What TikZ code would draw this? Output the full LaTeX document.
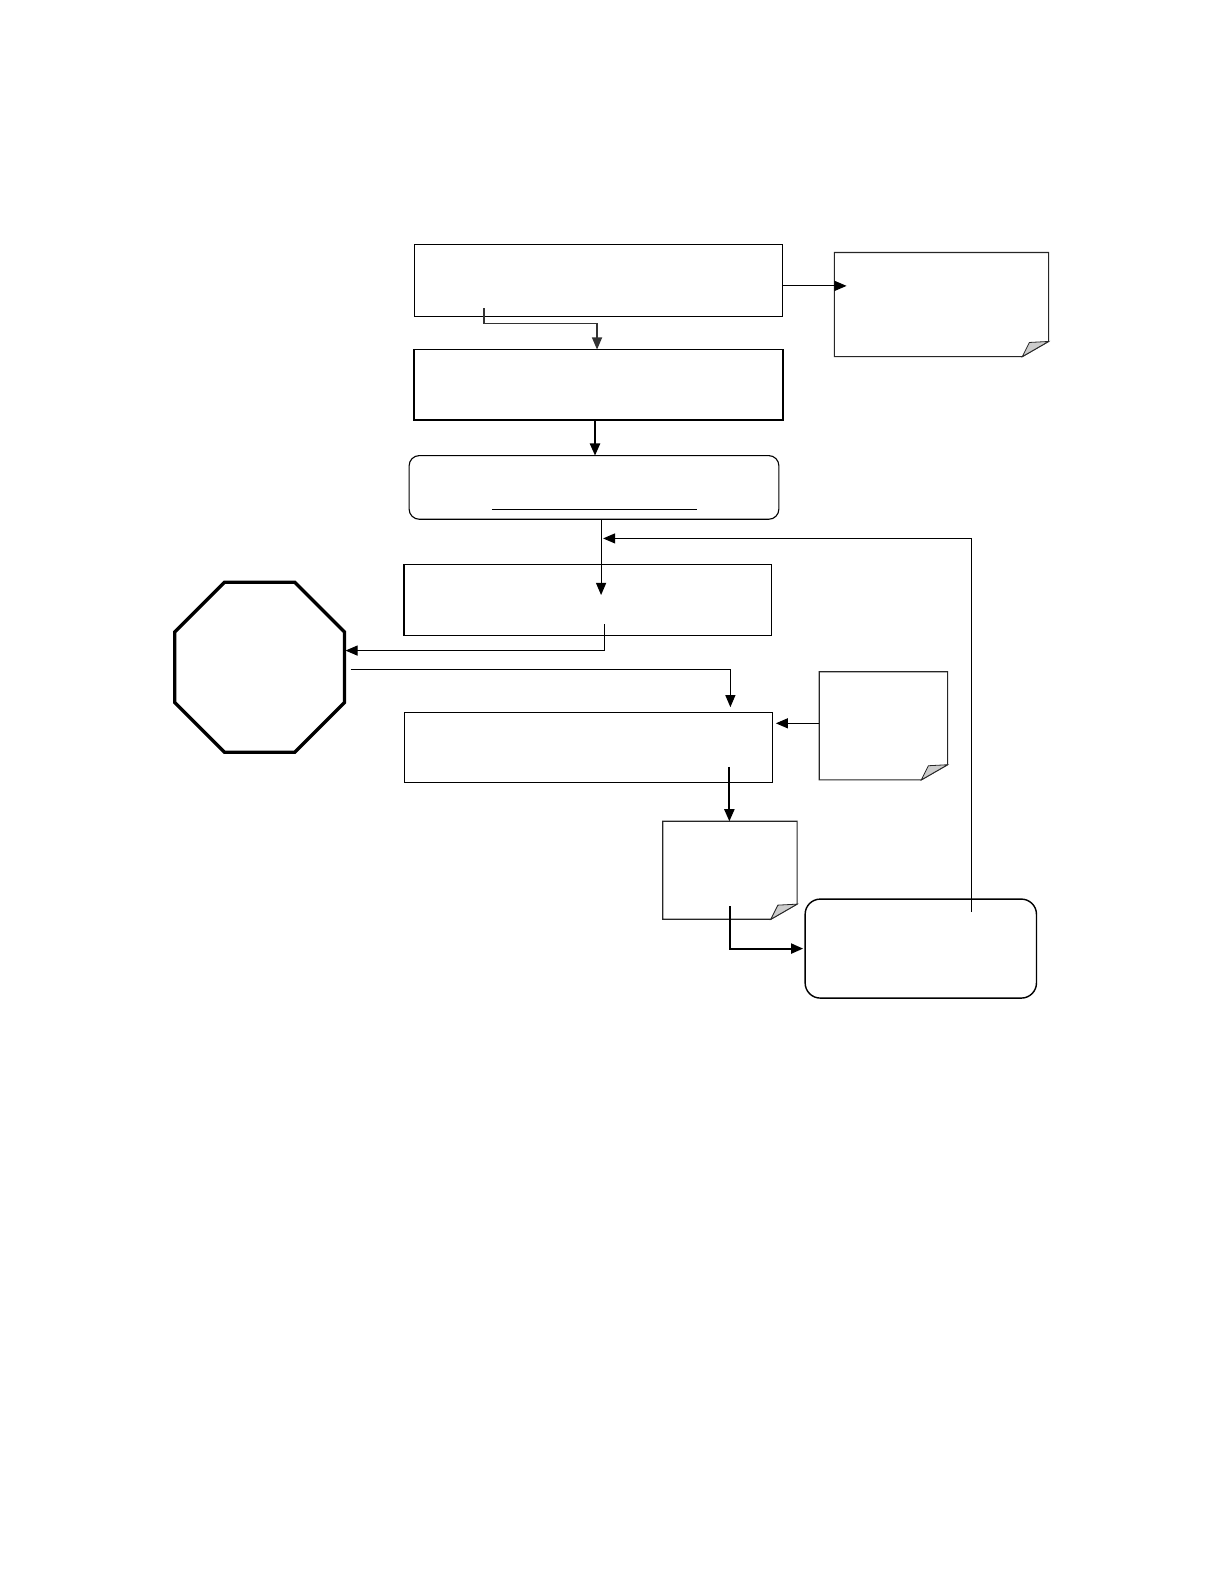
\documentclass[tikz,border=0pt]{standalone}
\usetikzlibrary{arrows.meta,shapes.geometric}
\begin{document}
\begin{tikzpicture}[x=1pt,y=-1pt,
  box/.style={draw, inner sep=0pt, outer sep=0pt, anchor=north west},
  notebox/.style={inner sep=0pt, outer sep=0pt, anchor=north west},
  arr/.style={-{Triangle[length=12pt,width=10pt]}},
  thinl/.style={line width=1pt},
  thickl/.style={line width=2pt}]
\useasboundingbox (0,0) rectangle (1212,1568);

\newcommand\mynote[1]{%
  \draw[line width=1.1pt, black!85] (#1.north west) -- (#1.north east) -- ([yshift=15pt]#1.south east)
     -- ([xshift=-26pt]#1.south east) -- (#1.south west) -- cycle;
  \draw[line width=0.8pt, black!85, fill=black!20] ([yshift=15pt]#1.south east) -- ([xshift=-26pt]#1.south east)
     -- ([xshift=-19pt,yshift=14pt]#1.south east) -- cycle;}

% boxes
\node[box, thinl, minimum width=365pt, minimum height=71pt] (a) at (410,242) {};
\node[box, line width=1.6pt, minimum width=365pt, minimum height=70pt] (b) at (410,346) {};
\node[box, line width=1.1pt, rounded corners=10pt, minimum width=366pt, minimum height=63pt] (c) at (405,451) {};
\node[box, line width=1.3pt, minimum width=364pt, minimum height=70pt] (d) at (400,559) {};
\node[box, thinl, minimum width=365pt, minimum height=70pt] (e) at (400,705) {};
\node[box, line width=1.4pt, rounded corners=15pt, minimum width=229pt, minimum height=98pt] (f) at (797,890) {};
\node[draw, regular polygon, regular polygon sides=8, minimum size=182pt, inner sep=0pt, outer sep=0pt, line width=3.2pt] (oct) at (257,660.5) {};

% notes
\node[notebox, minimum width=212pt, minimum height=103pt] (n1) at (826,250) {};
\node[notebox, minimum width=127pt, minimum height=107pt] (n2) at (811,665) {};
\node[notebox, minimum width=133pt, minimum height=97pt] (n3) at (656,813) {};
\mynote{n1}
\mynote{n2}
\mynote{n3}

% underline in c
\draw[thinl] (487,504) -- (690,504);

% connector points
\coordinate (aS) at (479,305);
\coordinate (aK) at (591,320);
\coordinate (n1in) at (838,283);
\coordinate (bc) at (589,0);
\coordinate (dIn) at (595,589);
\coordinate (fS) at (962,903);
\coordinate (fb) at (597,533);
\coordinate (dOut) at (598,618);
\coordinate (octIn) at (342,644);
\coordinate (octOut) at (347,663);
\coordinate (eIn) at (723,700);
\coordinate (n2y) at (0,716);
\coordinate (eR) at (768,716);
\coordinate (eOut) at (722,759);
\coordinate (n3Out) at (723,897);

% connectors
\draw[arr, thinl] (a.east |- n1in) -- (n1in);
\draw[arr, line width=1.2pt, black!80] (aS) |- (aK) -- (aK |- b.north);
\draw[arr, thickl] (b.south -| bc) -- (c.north -| bc);
\draw[arr, thinl] (c.south -| dIn) -- (dIn);
\draw[arr, thinl] (fS) |- (fb);
\draw[arr, thinl] (dOut) |- (octIn);
\draw[arr, thinl] (octOut) -| (eIn);
\draw[arr, thinl] (n2.west |- eR) -- (eR);
\draw[arr, thickl] (eOut) -- (eOut |- n3.north);
\draw[arr, thickl] (n3Out) |- ([xshift=-2pt]f.west);
\end{tikzpicture}
\end{document}
